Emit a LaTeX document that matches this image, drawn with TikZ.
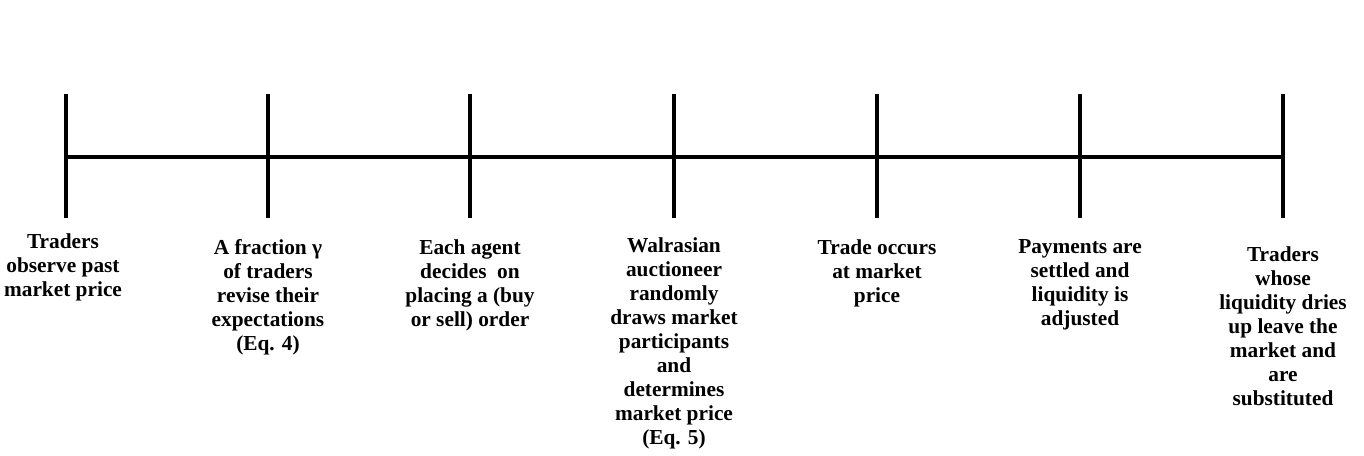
\documentclass[tikz,border=0pt]{standalone}
\usepackage{fontspec}
\setmainfont{Liberation Serif}

\begin{document}
\begin{tikzpicture}[x=0.75pt,y=-0.75pt]
\useasboundingbox (0,0) rectangle (1364,455);
\tikzstyle{every node}=[align=center,inner sep=0pt,anchor=north,
  font=\fontsize{16}{18}\selectfont\bfseries];
% time axis
\foreach \i/\x in {1/66,2/268,3/470,4/674,5/877,6/1080,7/1283}{
  \coordinate (up\i) at (\x,94);
  \coordinate (lo\i) at (\x,218);
  \draw[line width=3pt] (up\i) -- (lo\i);
}
\coordinate (start) at (66,157);
\coordinate (end) at (1283,157);
\draw[line width=3pt] (start) -- (end);
% steps
\node (s1) at (63,233) {Traders\\observe past\\market price};
\node (s2) at (268,239) {A fraction γ\\of traders\\revise their\\expectations\\(Eq. 4)};
\node (s3) at (470,239) {Each agent\\decides\ \ on\\placing a (buy\\or sell) order};
\node (s4) at (674,237) {Walrasian\\auctioneer\\randomly\\draws market\\participants\\and\\determines\\market price\\(Eq. 5)};
\node (s5) at (877,239) {Trade occurs\\at market\\price};
\node (s6) at (1080,239) {Payments are\\settled and\\liquidity is\\adjusted};
\node (s7) at (1283,246) {Traders\\whose\\liquidity dries\\up leave the\\market and\\are\\substituted};
\end{tikzpicture}
\end{document}
